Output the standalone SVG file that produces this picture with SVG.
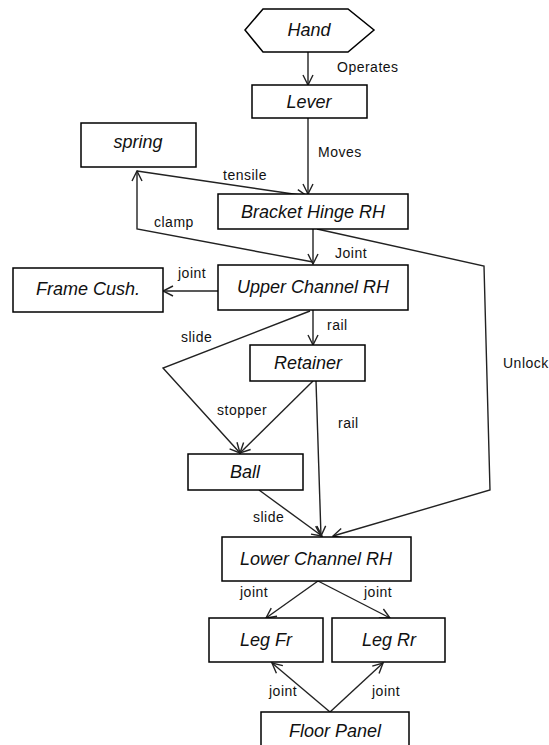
<svg xmlns="http://www.w3.org/2000/svg" width="549" height="745" viewBox="0 0 549 745">
<defs>
<style>
.node{fill:#fff;stroke:#000;stroke-width:1.5}
.nt{font-family:"Liberation Sans",Arial,sans-serif;font-style:italic;font-size:18px;fill:#111;text-anchor:middle}
.el{font-family:"Liberation Sans",Arial,sans-serif;font-size:14px;letter-spacing:0.5px;fill:#111}
.c{fill:none;stroke:#222;stroke-width:1.4}
</style>
<marker id="ah" viewBox="0 0 12 12" refX="11" refY="6" markerWidth="12" markerHeight="12" markerUnits="userSpaceOnUse" orient="auto">
<path d="M1,1 L11,6 L1,11" fill="none" stroke="#222" stroke-width="1.4"/>
</marker>
</defs>
<rect width="549" height="745" fill="#fff"/>
<g id="connectors">
<line class="c" x1="308" y1="52" x2="308" y2="85" marker-end="url(#ah)"/>
<line class="c" x1="308" y1="118" x2="308" y2="194" marker-end="url(#ah)"/>
<line class="c" x1="137" y1="171" x2="307" y2="196" marker-end="url(#ah)"/>
<polyline class="c" points="313,262 137,229 137,171" marker-end="url(#ah)"/>
<line class="c" x1="313" y1="229" x2="313" y2="264" marker-end="url(#ah)"/>
<polyline class="c" points="317,229 484,266 490,490 333,536" marker-end="url(#ah)"/>
<line class="c" x1="219" y1="291" x2="163" y2="291" marker-end="url(#ah)"/>
<line class="c" x1="313" y1="310" x2="313" y2="345" marker-end="url(#ah)"/>
<polyline class="c" points="310,311 163,368 240,453" marker-end="url(#ah)"/>
<line class="c" x1="313" y1="381" x2="240" y2="453" marker-end="url(#ah)"/>
<line class="c" x1="316" y1="381" x2="321" y2="536" marker-end="url(#ah)"/>
<line class="c" x1="259" y1="490" x2="322" y2="536" marker-end="url(#ah)"/>
<line class="c" x1="318" y1="581" x2="266" y2="618" marker-end="url(#ah)"/>
<line class="c" x1="318" y1="581" x2="390" y2="618" marker-end="url(#ah)"/>
<line class="c" x1="330" y1="712" x2="272" y2="663" marker-end="url(#ah)"/>
<line class="c" x1="330" y1="712" x2="383" y2="663" marker-end="url(#ah)"/>
<text class="el" x="337" y="72">Operates</text>
<text class="el" x="318" y="157">Moves</text>
<text class="el" x="223" y="180">tensile</text>
<text class="el" x="154" y="227">clamp</text>
<text class="el" x="335" y="258">Joint</text>
<text class="el" x="178" y="278">joint</text>
<text class="el" x="327" y="330">rail</text>
<text class="el" x="181" y="342">slide</text>
<text class="el" x="217" y="415">stopper</text>
<text class="el" x="338" y="428">rail</text>
<text class="el" x="503" y="368">Unlock</text>
<text class="el" x="253" y="522">slide</text>
<text class="el" x="240" y="597">joint</text>
<text class="el" x="364" y="597">joint</text>
<text class="el" x="269" y="696">joint</text>
<text class="el" x="372" y="696">joint</text>
</g>
<g id="hand"><polygon class="node" points="245,30 263,9 348,9 374,30 348,52 263,52"/><text class="nt" x="309" y="36">Hand</text></g>
<g id="lever"><rect class="node" x="252" y="85" width="115" height="33"/><text class="nt" x="309" y="108">Lever</text></g>
<g id="spring"><rect class="node" x="81" y="123" width="115" height="44"/><text class="nt" x="138" y="148">spring</text></g>
<g id="bracket"><rect class="node" x="218" y="194" width="190" height="35"/><text class="nt" x="313" y="218">Bracket Hinge RH</text></g>
<g id="upper"><rect class="node" x="218" y="265" width="190" height="45"/><text class="nt" x="313" y="293">Upper Channel RH</text></g>
<g id="frame"><rect class="node" x="13" y="268" width="150" height="44"/><text class="nt" x="88" y="295">Frame Cush.</text></g>
<g id="retainer"><rect class="node" x="250" y="345" width="115" height="36"/><text class="nt" x="308" y="369">Retainer</text></g>
<g id="ball"><rect class="node" x="188" y="454" width="115" height="36"/><text class="nt" x="245" y="478">Ball</text></g>
<g id="lower"><rect class="node" x="222" y="537" width="189" height="44"/><text class="nt" x="316" y="565">Lower Channel RH</text></g>
<g id="legfr"><rect class="node" x="209" y="618" width="114" height="44"/><text class="nt" x="266" y="646">Leg Fr</text></g>
<g id="legrr"><rect class="node" x="332" y="618" width="113" height="44"/><text class="nt" x="389" y="646">Leg Rr</text></g>
<g id="floor"><rect class="node" x="261" y="712" width="148" height="45"/><text class="nt" x="335" y="737">Floor Panel</text></g>
</svg>
